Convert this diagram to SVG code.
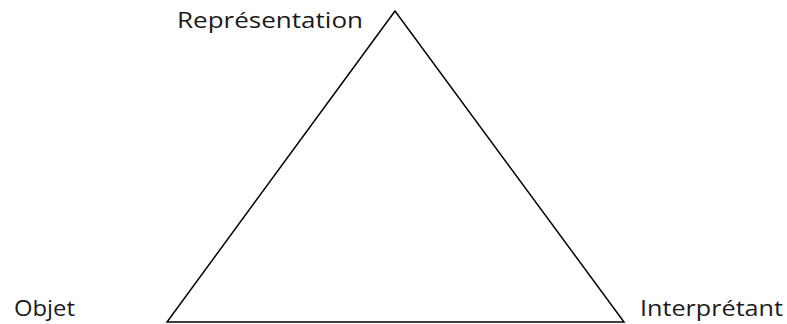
<svg xmlns="http://www.w3.org/2000/svg" width="787" height="324" viewBox="0 0 787 324">
<style>
.lbl{font-family:"Open Sans","Liberation Sans",sans-serif;font-size:21.5px;fill:#1a1a1a}
.edge{fill:none;stroke:#000;stroke-width:1.5;stroke-linejoin:miter}
</style>
<rect width="787" height="324" fill="#fff"/>
<g id="connectors">
<polygon class="edge" points="395,11 167,322 624,322"/>
</g>
<g id="node-representation"><text class="lbl" x="177" y="28" textLength="186" lengthAdjust="spacingAndGlyphs">Représentation</text></g>
<g id="node-objet"><text class="lbl" x="14" y="316" textLength="61" lengthAdjust="spacingAndGlyphs">Objet</text></g>
<g id="node-interpretant"><text class="lbl" x="640" y="316" textLength="143" lengthAdjust="spacingAndGlyphs">Interprétant</text></g>
</svg>
